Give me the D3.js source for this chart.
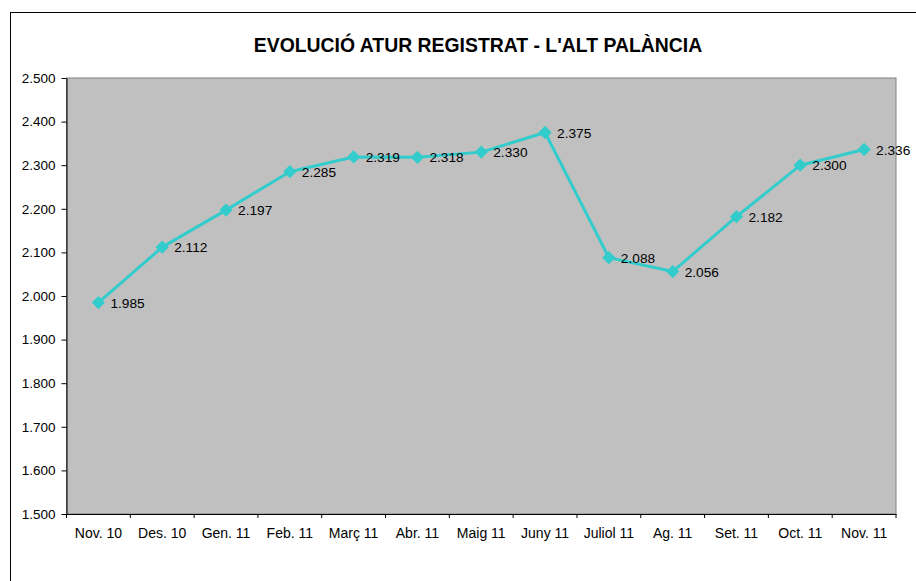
<!DOCTYPE html>
<html><head><meta charset="utf-8">
<script src="https://cdn.jsdelivr.net/npm/d3@7"></script>
<style>body{margin:0;background:#fff;} svg{display:block;font-family:"Liberation Sans",Arial,sans-serif;}</style>
</head><body>
<svg id="c" width="916" height="581"></svg>
<script>
const categories = ["Nov. 10","Des. 10","Gen. 11","Feb. 11","Març 11","Abr. 11","Maig 11","Juny 11","Juliol 11","Ag. 11","Set. 11","Oct. 11","Nov. 11"];
const values = [1985,2112,2197,2285,2319,2318,2330,2375,2088,2056,2182,2300,2336];
const yTicks = [1500,1600,1700,1800,1900,2000,2100,2200,2300,2400,2500];
const title = "EVOLUCIÓ ATUR REGISTRAT - L'ALT PALÀNCIA";

const fmt = v => d3.format(",")(v).replace(/,/g,".");
const svg = d3.select("#c");
const L=66.5, R=896, T=78, B=514;

svg.append("rect").attr("x",10.5).attr("y",12.5).attr("width",920).attr("height",600)
  .attr("fill","#fff").attr("stroke","#000").attr("stroke-width",1);

svg.append("text").attr("x",478).attr("y",52).attr("text-anchor","middle")
  .attr("font-size","19.4px").attr("font-weight","bold").text(title);

const x = d3.scaleBand().domain(categories).range([L,R]);
const y = d3.scaleLinear().domain([1500,2500]).range([B,T]);

svg.append("rect").attr("x",L).attr("y",T).attr("width",R-L).attr("height",B-T)
  .attr("fill","#C0C0C0").attr("stroke","#808080").attr("stroke-width",1);

const yAxis = svg.append("g").attr("transform",`translate(${L},0)`)
  .call(d3.axisLeft(y).tickValues(yTicks).tickFormat(fmt).tickSize(5).tickSizeOuter(0).tickPadding(6));
const xAxis = svg.append("g").attr("transform",`translate(0,${B})`)
  .call(d3.axisBottom(x).tickSize(0).tickSizeOuter(0).tickPadding(14));
xAxis.selectAll(".bnd").data(d3.range(categories.length+1)).enter().append("line")
  .attr("x1",i=>L+i*x.step()).attr("x2",i=>L+i*x.step()).attr("y1",0).attr("y2",4).attr("stroke","#000");
[yAxis,xAxis].forEach(g=>{
  g.selectAll("text").attr("fill","#000").attr("font-family","Liberation Sans, Arial, sans-serif");
  g.select(".domain").attr("stroke","#000");
  g.selectAll(".tick line").attr("stroke","#000");
});
yAxis.selectAll("text").attr("font-size","13.5px");
xAxis.selectAll("text").attr("font-size","14px");

const cx = (d,i)=> x(categories[i]) + x.bandwidth()/2;
const line = d3.line().x(cx).y(d=>y(d));
svg.append("path").datum(values).attr("d",line).attr("fill","none")
  .attr("stroke","#33CCCC").attr("stroke-width",3).attr("stroke-linejoin","round");

svg.selectAll(".m").data(values).enter().append("path")
  .attr("d",d3.symbol(d3.symbolSquare,88)())
  .attr("transform",(d,i)=>`translate(${cx(d,i)},${y(d)}) rotate(45)`)
  .attr("fill","#33CCCC");

svg.selectAll(".lbl").data(values).enter().append("text")
  .attr("x",(d,i)=>cx(d,i)+12).attr("y",d=>y(d)+5)
  .attr("font-size","13.7px").attr("fill","#000").text(fmt);
</script>
</body></html>
